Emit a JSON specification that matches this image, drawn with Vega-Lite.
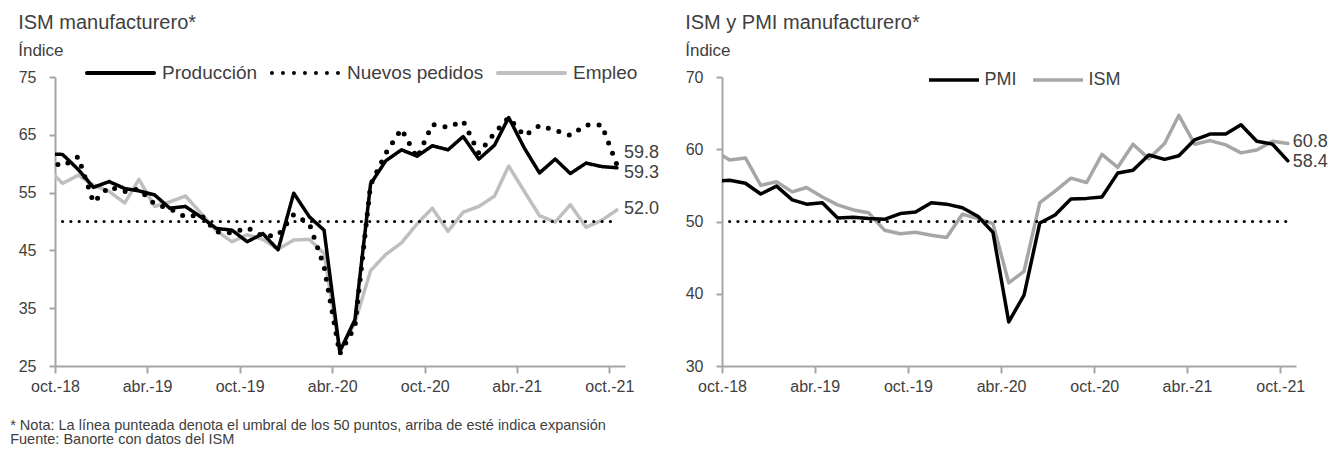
{
  "$schema": "https://vega.github.io/schema/vega-lite/v6.json",
  "background": "white",
  "padding": {"left": 10, "top": 13, "right": 0, "bottom": 0},
  "datasets": {
    "ism": [
      {"fecha": "2018/09/16", "Producción": 61.7, "Nuevos pedidos": 60.4, "Empleo": 59.2, "PMI": 55.6, "ISM": 59.8},
      {"fecha": "2018/10/16", "Producción": 61.6, "Nuevos pedidos": 59.6, "Empleo": 56.6, "PMI": 55.7, "ISM": 58.5},
      {"fecha": "2018/11/16", "Producción": 59.0, "Nuevos pedidos": 61.2, "Empleo": 58.0, "PMI": 55.3, "ISM": 58.8},
      {"fecha": "2018/12/16", "Producción": 55.9, "Nuevos pedidos": 53.3, "Empleo": 56.3, "PMI": 53.8, "ISM": 55.0},
      {"fecha": "2019/01/16", "Producción": 56.9, "Nuevos pedidos": 56.0, "Empleo": 55.2, "PMI": 54.9, "ISM": 55.5},
      {"fecha": "2019/02/16", "Producción": 55.7, "Nuevos pedidos": 55.2, "Empleo": 53.2, "PMI": 53.0, "ISM": 54.1},
      {"fecha": "2019/03/16", "Producción": 55.3, "Nuevos pedidos": 55.6, "Empleo": 57.3, "PMI": 52.4, "ISM": 54.7},
      {"fecha": "2019/04/16", "Producción": 54.6, "Nuevos pedidos": 53.0, "Empleo": 52.6, "PMI": 52.6, "ISM": 53.4},
      {"fecha": "2019/05/16", "Producción": 52.3, "Nuevos pedidos": 52.2, "Empleo": 53.4, "PMI": 50.5, "ISM": 52.3},
      {"fecha": "2019/06/16", "Producción": 52.6, "Nuevos pedidos": 50.8, "Empleo": 54.4, "PMI": 50.6, "ISM": 51.6},
      {"fecha": "2019/07/16", "Producción": 50.8, "Nuevos pedidos": 51.2, "Empleo": 51.5, "PMI": 50.4, "ISM": 51.2},
      {"fecha": "2019/08/16", "Producción": 48.8, "Nuevos pedidos": 48.2, "Empleo": 48.4, "PMI": 50.3, "ISM": 48.8},
      {"fecha": "2019/09/16", "Producción": 48.5, "Nuevos pedidos": 48.0, "Empleo": 46.5, "PMI": 51.1, "ISM": 48.3},
      {"fecha": "2019/10/16", "Producción": 46.5, "Nuevos pedidos": 48.9, "Empleo": 47.7, "PMI": 51.3, "ISM": 48.5},
      {"fecha": "2019/11/16", "Producción": 47.9, "Nuevos pedidos": 47.5, "Empleo": 46.9, "PMI": 52.6, "ISM": 48.1},
      {"fecha": "2019/12/16", "Producción": 45.1, "Nuevos pedidos": 47.6, "Empleo": 45.2, "PMI": 52.4, "ISM": 47.8},
      {"fecha": "2020/01/16", "Producción": 54.9, "Nuevos pedidos": 51.2, "Empleo": 46.8, "PMI": 51.9, "ISM": 51.0},
      {"fecha": "2020/02/16", "Producción": 50.8, "Nuevos pedidos": 49.6, "Empleo": 46.9, "PMI": 50.7, "ISM": 50.4},
      {"fecha": "2020/03/16", "Producción": 48.5, "Nuevos pedidos": 42.2, "Empleo": 44.5, "PMI": 48.5, "ISM": 49.7},
      {"fecha": "2020/04/16", "Producción": 27.5, "Nuevos pedidos": 27.1, "Empleo": 27.5, "PMI": 36.1, "ISM": 41.5},
      {"fecha": "2020/05/16", "Producción": 33.0, "Nuevos pedidos": 31.8, "Empleo": 32.5, "PMI": 39.8, "ISM": 43.1},
      {"fecha": "2020/06/16", "Producción": 56.5, "Nuevos pedidos": 56.4, "Empleo": 41.5, "PMI": 49.8, "ISM": 52.6},
      {"fecha": "2020/07/16", "Producción": 60.5, "Nuevos pedidos": 61.8, "Empleo": 44.3, "PMI": 50.9, "ISM": 54.2},
      {"fecha": "2020/08/16", "Producción": 62.4, "Nuevos pedidos": 66.0, "Empleo": 46.3, "PMI": 53.1, "ISM": 56.0},
      {"fecha": "2020/09/16", "Producción": 61.3, "Nuevos pedidos": 61.0, "Empleo": 49.6, "PMI": 53.2, "ISM": 55.4},
      {"fecha": "2020/10/16", "Producción": 63.1, "Nuevos pedidos": 66.8, "Empleo": 52.3, "PMI": 53.4, "ISM": 59.3},
      {"fecha": "2020/11/16", "Producción": 62.4, "Nuevos pedidos": 66.3, "Empleo": 48.3, "PMI": 56.7, "ISM": 57.5},
      {"fecha": "2020/12/16", "Producción": 64.7, "Nuevos pedidos": 67.4, "Empleo": 51.6, "PMI": 57.1, "ISM": 60.7},
      {"fecha": "2021/01/16", "Producción": 60.8, "Nuevos pedidos": 61.8, "Empleo": 52.6, "PMI": 59.2, "ISM": 58.7},
      {"fecha": "2021/02/16", "Producción": 63.2, "Nuevos pedidos": 65.3, "Empleo": 54.4, "PMI": 58.6, "ISM": 60.8},
      {"fecha": "2021/03/16", "Producción": 68.0, "Nuevos pedidos": 68.0, "Empleo": 59.6, "PMI": 59.1, "ISM": 64.7},
      {"fecha": "2021/04/16", "Producción": 62.7, "Nuevos pedidos": 64.8, "Empleo": 55.2, "PMI": 61.3, "ISM": 60.7},
      {"fecha": "2021/05/16", "Producción": 58.4, "Nuevos pedidos": 66.6, "Empleo": 51.0, "PMI": 62.1, "ISM": 61.2},
      {"fecha": "2021/06/16", "Producción": 60.8, "Nuevos pedidos": 65.8, "Empleo": 49.9, "PMI": 62.1, "ISM": 60.6},
      {"fecha": "2021/07/16", "Producción": 58.3, "Nuevos pedidos": 64.9, "Empleo": 52.9, "PMI": 63.4, "ISM": 59.5},
      {"fecha": "2021/08/16", "Producción": 60.1, "Nuevos pedidos": 66.7, "Empleo": 49.0, "PMI": 61.1, "ISM": 59.9},
      {"fecha": "2021/09/16", "Producción": 59.5, "Nuevos pedidos": 66.7, "Empleo": 50.2, "PMI": 60.7, "ISM": 61.1},
      {"fecha": "2021/10/16", "Producción": 59.3, "Nuevos pedidos": 59.8, "Empleo": 52.0, "PMI": 58.4, "ISM": 60.8}
    ]
  },
  "title": {
    "text": ["* Nota: La línea punteada denota el umbral de los 50 puntos, arriba de esté indica expansión", "Fuente: Banorte con datos del ISM"],
    "orient": "bottom", "anchor": "start", "frame": "bounds", "fontSize": 14.5, "lineHeight": 14, "color": "#404040", "offset": 25, "dx": -8
  },
  "spacing": 26,
  "resolve": {"scale": {"color": "independent", "strokeDash": "independent", "x": "independent", "y": "independent"}, "legend": {"color": "independent", "strokeDash": "independent"}},
  "hconcat": [
    {
      "width": 570, "height": 289,
      "title": {"text": "ISM manufacturero*", "subtitle": "Índice", "offset": -22},
      "data": {"name": "ism"},
      "layer": [
        {
          "transform": [{"fold": ["Empleo", "Producción"], "as": ["serie", "valor"]}],
          "mark": {"type": "line", "clip": true, "strokeWidth": 3.5, "strokeJoin": "round", "strokeCap": "round"},
          "encoding": {
            "x": {"field": "fecha", "type": "temporal",
              "scale": {"domain": [{"year": 2018, "month": 10, "date": 1}, {"year": 2021, "month": 11, "date": 1}]},
              "axis": {"title": null, "labelFlush": false, "values": [{"year": 2018, "month": 10, "date": 1}, {"year": 2019, "month": 4, "date": 1}, {"year": 2019, "month": 10, "date": 1}, {"year": 2020, "month": 4, "date": 1}, {"year": 2020, "month": 10, "date": 1}, {"year": 2021, "month": 4, "date": 1}, {"year": 2021, "month": 10, "date": 1}],
                "labelExpr": "['ene.','feb.','mar.','abr.','may.','jun.','jul.','ago.','sep.','oct.','nov.','dic.'][month(datum.value)] + '-' + timeFormat(datum.value, '%y')"}},
            "y": {"field": "valor", "type": "quantitative", "scale": {"domain": [25, 75], "nice": false, "zero": false}, "axis": {"title": null, "values": [25, 35, 45, 55, 65, 75]}},
            "color": {"field": "serie", "type": "nominal", "scale": {"domain": ["Producción", "Nuevos pedidos", "Empleo"], "range": ["#000000", "#000000", "#BFBFBF"]},
              "legend": {"legendX": 29.5, "legendY": -40, "symbolSize": 4500, "symbolStrokeWidth": 4, "labelFontSize": 19, "labelOffset": 5.5, "columnPadding": 6,
                "encode": {"symbols": {"update": {"strokeCap": {"value": "round"}, "strokeDash": {"signal": "(datum.value === 'Nuevos pedidos' ? [0, 10] : [1, 0])"}}}}}},
            "strokeDash": {"field": "serie", "type": "nominal", "scale": {"domain": ["Producción", "Nuevos pedidos", "Empleo"], "range": [[1, 0], [0, 11], [1, 0]]}, "legend": null}
          }
        },
        {
          "transform": [{"fold": ["Nuevos pedidos"], "as": ["serie", "valor"]}],
          "mark": {"type": "line", "clip": true, "strokeWidth": 5, "strokeJoin": "round", "strokeCap": "round"},
          "encoding": {
            "x": {"field": "fecha", "type": "temporal"},
            "y": {"field": "valor", "type": "quantitative"},
            "color": {"field": "serie", "type": "nominal"},
            "strokeDash": {"field": "serie", "type": "nominal"}
          }
        },
        {
          "transform": [{"filter": {"field": "fecha", "gte": {"year": 2018, "month": 10, "date": 1}}}],
          "mark": {"type": "rule", "color": "#000000", "strokeWidth": 3.2, "strokeDash": [0, 8.3], "strokeCap": "round"},
          "encoding": {
            "x": {"aggregate": "min", "field": "fecha", "type": "temporal"},
            "x2": {"aggregate": "max", "field": "fecha"},
            "y": {"datum": 50}
          }
        },
        {
          "transform": [{"filter": {"field": "fecha", "timeUnit": "yearmonth", "equal": {"year": 2021, "month": 10}}}],
          "mark": {"type": "text", "align": "left", "baseline": "middle", "dx": 7, "dy": -12, "fontSize": 18, "color": "#404040"},
          "encoding": {"x": {"field": "fecha", "type": "temporal"}, "y": {"field": "Nuevos pedidos", "type": "quantitative"}, "text": {"field": "Nuevos pedidos", "type": "quantitative", "format": ".1f"}}
        },
        {
          "transform": [{"filter": {"field": "fecha", "timeUnit": "yearmonth", "equal": {"year": 2021, "month": 10}}}],
          "mark": {"type": "text", "align": "left", "baseline": "middle", "dx": 7, "dy": 5, "fontSize": 18, "color": "#404040"},
          "encoding": {"x": {"field": "fecha", "type": "temporal"}, "y": {"field": "Producción", "type": "quantitative"}, "text": {"field": "Producción", "type": "quantitative", "format": ".1f"}}
        },
        {
          "transform": [{"filter": {"field": "fecha", "timeUnit": "yearmonth", "equal": {"year": 2021, "month": 10}}}],
          "mark": {"type": "text", "align": "left", "baseline": "middle", "dx": 7, "dy": -1, "fontSize": 18, "color": "#404040"},
          "encoding": {"x": {"field": "fecha", "type": "temporal"}, "y": {"field": "Empleo", "type": "quantitative"}, "text": {"field": "Empleo", "type": "quantitative", "format": ".1f"}}
        }
      ]
    },
    {
      "width": 574, "height": 289,
      "title": {"text": "ISM y PMI manufacturero*", "subtitle": "Índice", "offset": -6},
      "data": {"name": "ism"},
      "layer": [
        {
          "transform": [{"fold": ["ISM", "PMI"], "as": ["serie", "valor"]}],
          "mark": {"type": "line", "clip": true, "strokeWidth": 3.5, "strokeJoin": "round", "strokeCap": "round"},
          "encoding": {
            "x": {"field": "fecha", "type": "temporal",
              "scale": {"domain": [{"year": 2018, "month": 10, "date": 1}, {"year": 2021, "month": 11, "date": 1}]},
              "axis": {"title": null, "labelFlush": false, "values": [{"year": 2018, "month": 10, "date": 1}, {"year": 2019, "month": 4, "date": 1}, {"year": 2019, "month": 10, "date": 1}, {"year": 2020, "month": 4, "date": 1}, {"year": 2020, "month": 10, "date": 1}, {"year": 2021, "month": 4, "date": 1}, {"year": 2021, "month": 10, "date": 1}],
                "labelExpr": "['ene.','feb.','mar.','abr.','may.','jun.','jul.','ago.','sep.','oct.','nov.','dic.'][month(datum.value)] + '-' + timeFormat(datum.value, '%y')"}},
            "y": {"field": "valor", "type": "quantitative", "scale": {"domain": [30, 70], "nice": false, "zero": false}, "axis": {"title": null, "values": [30, 40, 50, 60, 70]}},
            "color": {"field": "serie", "type": "nominal", "scale": {"domain": ["PMI", "ISM"], "range": ["#000000", "#A6A6A6"]},
              "legend": {"legendX": 205, "legendY": -24, "symbolSize": 2500, "symbolStrokeWidth": 3.5, "labelFontSize": 18, "labelOffset": 3.5, "columnPadding": 9,
                "encode": {"symbols": {"update": {"strokeCap": {"value": "butt"}}}}}}
          }
        },
        {
          "transform": [{"filter": {"field": "fecha", "gte": {"year": 2018, "month": 10, "date": 1}}}],
          "mark": {"type": "rule", "color": "#000000", "strokeWidth": 3.2, "strokeDash": [0, 8.3], "strokeCap": "round"},
          "encoding": {
            "x": {"aggregate": "min", "field": "fecha", "type": "temporal"},
            "x2": {"aggregate": "max", "field": "fecha"},
            "y": {"datum": 50}
          }
        },
        {
          "transform": [{"filter": {"field": "fecha", "timeUnit": "yearmonth", "equal": {"year": 2021, "month": 10}}}],
          "mark": {"type": "text", "align": "left", "baseline": "middle", "dx": 5, "dy": -1, "fontSize": 18, "color": "#404040"},
          "encoding": {"x": {"field": "fecha", "type": "temporal"}, "y": {"field": "ISM", "type": "quantitative"}, "text": {"field": "ISM", "type": "quantitative", "format": ".1f"}}
        },
        {
          "transform": [{"filter": {"field": "fecha", "timeUnit": "yearmonth", "equal": {"year": 2021, "month": 10}}}],
          "mark": {"type": "text", "align": "left", "baseline": "middle", "dx": 5, "dy": 1, "fontSize": 18, "color": "#404040"},
          "encoding": {"x": {"field": "fecha", "type": "temporal"}, "y": {"field": "PMI", "type": "quantitative"}, "text": {"field": "PMI", "type": "quantitative", "format": ".1f"}}
        }
      ]
    }
  ],
  "config": {
    "view": {"stroke": null},
    "font": "Liberation Sans",
    "axis": {"domainColor": "#A6A6A6", "domainWidth": 2, "tickColor": "#A6A6A6", "tickWidth": 2, "labelColor": "#404040", "labelFontSize": 16, "grid": false},
    "axisY": {"tickSize": 6, "labelPadding": 13},
    "axisX": {"tickSize": 7, "labelPadding": 5},
    "title": {"anchor": "start", "frame": "bounds", "fontSize": 20, "fontWeight": "normal", "color": "#404040", "subtitleFontSize": 17, "subtitleColor": "#404040", "subtitlePadding": 10},
    "legend": {"orient": "none", "direction": "horizontal", "symbolType": "stroke", "title": null, "labelColor": "#404040", "padding": 0}
  }
}
